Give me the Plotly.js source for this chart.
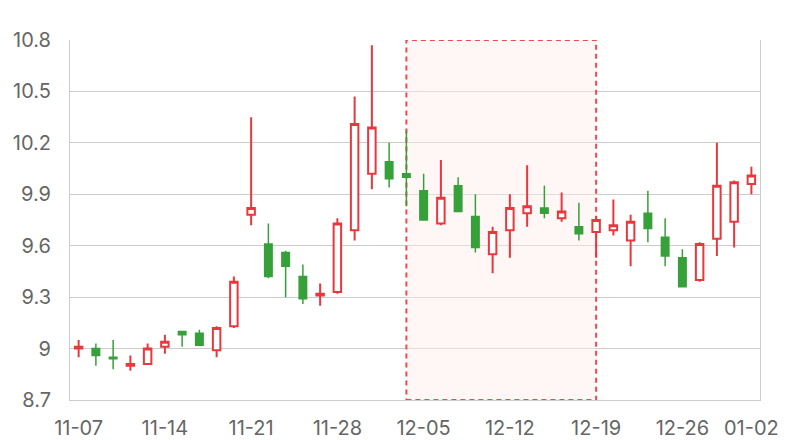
<!DOCTYPE html>
<html>
<head>
<meta charset="utf-8">
<script src="https://cdn.plot.ly/plotly-3.0.1.min.js"></script>
<style>html,body{margin:0;padding:0;background:#fff;}#chart{width:800px;height:440px;}</style>
</head>
<body>
<div id="chart"></div>
<script>
const dates = ['11-07','11-08','11-09','11-10','11-11','11-14','11-15','11-16','11-17','11-18',
  '11-21','11-22','11-23','11-24','11-25','11-28','11-29','11-30','12-01','12-02',
  '12-05','12-06','12-07','12-08','12-09','12-12','12-13','12-14','12-15','12-16',
  '12-19','12-20','12-21','12-22','12-23','12-26','12-27','12-28','12-29','01-02'];
const openVals  = [9.00,9.00,8.95,8.90,8.91,9.01,9.10,9.09,8.99,9.13,
  9.78,9.61,9.56,9.42,9.31,9.33,9.69,10.02,10.09,10.02,
  9.92,9.73,9.95,9.77,9.55,9.69,9.79,9.82,9.76,9.71,
  9.68,9.69,9.63,9.79,9.65,9.53,9.40,9.64,9.74,9.96];
const closeVals = [9.01,8.96,8.94,8.91,9.00,9.04,9.08,9.02,9.12,9.39,
  9.82,9.42,9.48,9.29,9.32,9.73,10.31,10.29,9.99,10.00,
  9.75,9.88,9.80,9.59,9.68,9.82,9.83,9.79,9.80,9.67,
  9.75,9.72,9.74,9.70,9.54,9.36,9.61,9.95,9.97,10.01];
const highVals  = [9.05,9.03,9.05,8.96,9.03,9.08,9.10,9.11,9.13,9.42,
  10.35,9.73,9.57,9.49,9.38,9.76,10.47,10.77,10.20,10.27,
  10.02,10.10,10.00,9.90,9.71,9.90,10.07,9.95,9.91,9.85,
  9.77,9.87,9.78,9.92,9.76,9.58,9.62,10.20,9.98,10.06];
const lowVals   = [8.95,8.90,8.88,8.87,8.91,8.97,9.01,9.02,8.95,9.12,
  9.72,9.41,9.30,9.26,9.25,9.32,9.63,9.93,9.94,9.83,
  9.75,9.72,9.80,9.56,9.44,9.53,9.71,9.76,9.74,9.63,
  9.53,9.66,9.48,9.62,9.48,9.36,9.39,9.54,9.59,9.90];
const tickLabels = ['11-07','11-14','11-21','11-28','12-05','12-12','12-19','12-26','01-02'];
const yTicks = [8.7,9,9.3,9.6,9.9,10.2,10.5,10.8];
const areaStart = '12-02', areaEnd = '12-19';

const red = '#e8383d', green = '#36a03a';
const trace = {
  type: 'candlestick', x: dates, open: openVals, close: closeVals, high: highVals, low: lowVals,
  increasing: {line: {color: red, width: 2}, fillcolor: '#ffffff'},
  decreasing: {line: {color: green, width: 1.5}, fillcolor: green},
  whiskerwidth: 0, hoverinfo: 'skip', showlegend: false
};
const layout = {
  width: 800, height: 440,
  margin: {l: 70, r: 40, t: 40, b: 40},
  paper_bgcolor: '#fff', plot_bgcolor: '#fff',
  font: {family: 'Inter, sans-serif', size: 20, color: '#666'},
  boxgap: 0.38,
  xaxis: {type: 'category', range: [-0.5, dates.length - 0.5], tickvals: tickLabels, ticktext: tickLabels,
    showgrid: false, showline: true, linecolor: '#ccc', linewidth: 1, ticks: '',
    ticklabelstandoff: 10,
    rangeslider: {visible: false}, fixedrange: true, tickfont: {size: 20, color: '#666'}},
  yaxis: {range: [8.7, 10.8], tickvals: yTicks, ticktext: yTicks.map(String), showgrid: true, gridcolor: '#ccc',
    showline: true, mirror: true, linecolor: '#ccc', linewidth: 1, zeroline: false, ticks: '',
    ticklabelstandoff: 14, tickfont: {size: 20, color: '#666'}},
  shapes: [{type: 'rect', xref: 'x', yref: 'y', x0: areaStart, x1: areaEnd, y0: 8.7, y1: 10.8,
    fillcolor: 'rgba(255,235,235,0.45)', line: {color: '#f04a4e', width: 2, dash: '5px,4px'}, layer: 'between'}]
};
Plotly.newPlot('chart', [trace], layout, {staticPlot: true, displayModeBar: false});
</script>
</body>
</html>
